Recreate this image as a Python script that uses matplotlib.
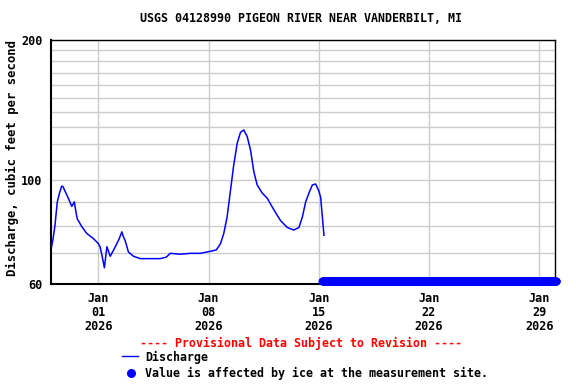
import matplotlib
matplotlib.use("Agg")
import matplotlib.pyplot as plt
import matplotlib.dates as mdates
from matplotlib.ticker import FixedLocator, NullFormatter, FixedFormatter
import pandas as pd

# ---- data (day offsets from 2025-12-29 00:00, discharge in ft3/s) ----
start = pd.Timestamp("2025-12-29")
q_days = [0.04, 0.13, 0.25, 0.40, 0.54, 0.68, 0.76, 0.89, 1.10, 1.32, 1.48, 1.59,
          1.67, 1.95, 2.27, 2.69, 3.01, 3.12, 3.23, 3.39, 3.55, 3.76, 3.97, 4.18,
          4.33, 4.50, 4.58, 4.71, 4.92, 5.24, 5.67, 6.30, 6.94, 7.32, 7.57, 8.21,
          8.85, 9.48, 10.12, 10.50, 10.76, 10.97, 11.18, 11.39, 11.60, 11.82,
          12.03, 12.24, 12.46, 12.67, 12.88, 13.09, 13.41, 13.73, 13.94, 14.26,
          14.58, 15.00, 15.42, 15.74, 15.96, 16.17, 16.38, 16.59, 16.80, 17.01,
          17.12, 17.23, 17.33]
q_vals = [72.1, 75.0, 80.0, 90.0, 94.0, 97.3, 97.0, 94.9, 91.6, 88.0, 90.0, 85.3,
          82.7, 79.7, 77.0, 75.1, 73.2, 72.0, 69.3, 65.0, 72.1, 68.8, 70.9, 73.2,
          75.0, 77.6, 76.0, 74.3, 70.2, 68.8, 68.0, 68.0, 68.0, 68.5, 69.8, 69.5,
          69.8, 69.8, 70.5, 71.0, 73.2, 77.0, 83.5, 94.9, 107.8, 120.1,
          126.8, 128.3, 124.1, 116.1, 104.3, 97.8, 94.0, 91.6, 89.0, 85.3,
          82.0, 79.3, 78.3, 79.3, 83.5, 90.0, 94.0, 97.8, 98.3, 94.9,
          92.0, 83.5, 76.3]
ice_start_day = 17.22
ice_end_day = 32.08
ice_value = 61.0

x_start = pd.Timestamp("2025-12-29")
x_end = pd.Timestamp("2026-01-30")
tick_dates = ["2026-01-01", "2026-01-08", "2026-01-15", "2026-01-22", "2026-01-29"]
tick_labels = ["Jan\n01\n2026", "Jan\n08\n2026", "Jan\n15\n2026", "Jan\n22\n2026", "Jan\n29\n2026"]
y_major = [60, 100, 200]
y_minor = [70, 80, 90, 110, 120, 130, 140, 150, 160, 170, 180, 190]

title = "USGS 04128990 PIGEON RIVER NEAR VANDERBILT, MI"
ylabel = "Discharge, cubic feet per second"

# ---- figure ----
font = "DejaVu Sans Mono"
fig = plt.figure(figsize=(5.76, 3.84), dpi=100)
ax = fig.add_axes([51/576, 1-284/384, 504/576, 244/384])

q_times = [start + pd.Timedelta(days=d) for d in q_days]
ax.plot(q_times, q_vals, color="#0000ff", lw=1.1, zorder=3)

ice_times = pd.date_range(start + pd.Timedelta(days=ice_start_day),
                          start + pd.Timedelta(days=ice_end_day), freq="30min")
ax.plot(ice_times, [ice_value]*len(ice_times), "o", color="#0000ff",
        markersize=5.8, markeredgewidth=0, zorder=4, clip_on=False)

ax.set_yscale("log")
ax.set_ylim(60, 200)
ax.set_xlim(x_start, x_end)
ax.yaxis.set_major_locator(FixedLocator(y_major))
ax.yaxis.set_major_formatter(FixedFormatter([str(v) for v in y_major]))
ax.yaxis.set_minor_locator(FixedLocator(y_minor))
ax.yaxis.set_minor_formatter(NullFormatter())

ax.set_xticks([mdates.date2num(pd.Timestamp(t)) for t in tick_dates])
ax.set_xticklabels(tick_labels, fontfamily=font, fontweight="bold", fontsize=8.5,
                   linespacing=1.1)
for lbl in ax.get_yticklabels():
    lbl.set_fontfamily(font); lbl.set_fontweight("bold"); lbl.set_fontsize(8.5)

ax.grid(True, which="both", axis="y", color="#cccccc", lw=1.0)
ax.grid(True, which="major", axis="x", color="#cccccc", lw=1.0)
ax.tick_params(axis="both", which="both", length=0)
ax.tick_params(axis="x", pad=6)
ax.tick_params(axis="y", pad=6)
for s in ax.spines.values():
    s.set_color("black"); s.set_linewidth(1.0)
ax.spines["left"].set_linewidth(1.5)
ax.spines["bottom"].set_linewidth(1.5)
ax.set_axisbelow(True)

fig.text(12/576, 1-158/384, ylabel, rotation=90, ha="center", va="center",
         fontfamily=font, fontweight="bold", fontsize=8.8)
fig.text(301/576, 1-19/384, title, ha="center", va="center", fontfamily=font,
         fontweight="bold", fontsize=8.4)

fig.text(301/576, 1-343/384, "---- Provisional Data Subject to Revision ----",
         ha="center", va="center", color="#ff0000", fontfamily=font,
         fontweight="bold", fontsize=8.4)
fig.lines.append(plt.Line2D([122/576, 138/576], [1-356/384, 1-356/384],
                            transform=fig.transFigure, color="#0000ff", lw=1.0))
fig.text(145/576, 1-357/384, "Discharge", ha="left", va="center",
         fontfamily=font, fontweight="bold", fontsize=8.4)
fig.lines.append(plt.Line2D([131/576], [1-373/384], transform=fig.transFigure,
                            marker="o", color="#0000ff", markersize=6.5,
                            markeredgewidth=0, linestyle="none"))
fig.text(145/576, 1-373/384, "Value is affected by ice at the measurement site.",
         ha="left", va="center", fontfamily=font, fontweight="bold", fontsize=8.4)

fig.savefig("out.png", dpi=100)
